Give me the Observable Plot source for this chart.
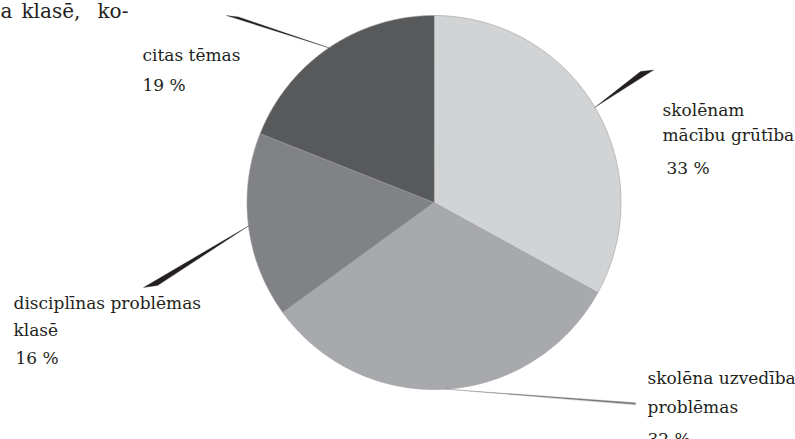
<!DOCTYPE html>
<html><head><meta charset="utf-8">
<script src="https://cdn.jsdelivr.net/npm/d3@7"></script>
<script src="https://cdn.jsdelivr.net/npm/@observablehq/plot@0.6"></script>
<style>
body{margin:0;background:#fff;overflow:hidden}
#chart svg{display:block;overflow:hidden}
</style>
</head><body><div id="chart"></div>
<script>
// ---- data ----
const categories = ["skolēnam mācību grūtības", "skolēna uzvedības problēmas", "disciplīnas problēmas klasē", "citas tēmas"];
const values = [33, 32, 16, 19];
const percentLabels = ["33 %", "32 %", "16 %", "19 %"];
const nameLines = [["skolēnam", "mācību grūtības"], ["skolēna uzvedības", "problēmas"], ["disciplīnas problēmas", "klasē"], ["citas tēmas"]];
const sliceColors = ["#d1d3d4", "#a7a9ac", "#808285", "#58595b"];
const fragmentWords = ["a", "klasē,", "ko-"];

// ---- layout ----
const W = 795, H = 439, CX = 433.5, CY = 202, R = 187;
const FONT = "DejaVu Serif, serif";
const labelPos = [
  {x: 662, y: 115, step: 25, px: 666, py: 173},
  {x: 647, y: 383, step: 29, px: 647, py: 444},
  {x: 13, y: 308, step: 27, px: 15, py: 363},
  {x: 142, y: 60, step: 0, px: 142, py: 90}
];
const fragmentX = [0, 21, 97];
const fragmentY = 17;
const leaderEnds = [
  [[640, 71], [653, 69.5]],
  [[635, 402.2], [635, 404]],
  [[143, 287], [157, 285]],
  [[226, 15], [238, 16.5]]
];
const leaderColors = ["#231f20", "#7a7a7a", "#231f20", "#231f20"];

// ---- build geometry from data ----
const arcs = d3.pie().sort(null).value(d => d).startAngle(0).endAngle(2 * Math.PI)(values);
const pt = (a, r) => [CX + r * Math.sin(a), CY - r * Math.cos(a)];

const slicePts = [];
arcs.forEach((a, i) => {
  const key = categories[i];
  slicePts.push({key, x: CX, y: CY});
  const n = Math.max(2, Math.ceil((a.endAngle - a.startAngle) / (Math.PI / 360)));
  for (let k = 0; k <= n; k++) {
    const t = a.startAngle + (a.endAngle - a.startAngle) * k / n;
    const [x, y] = pt(t, R);
    slicePts.push({key, x, y});
  }
});

const leaderPts = [];
arcs.forEach((a, i) => {
  const mid = (a.startAngle + a.endAngle) / 2;
  const [tx, ty] = pt(mid, R);
  const key = categories[i];
  leaderPts.push({key, c: leaderColors[i], x: tx, y: ty});
  leaderEnds[i].forEach(([x, y]) => leaderPts.push({key, c: leaderColors[i], x, y}));
});

const textRows = [];
nameLines.forEach((lines, i) => {
  lines.forEach((s, j) => textRows.push({x: labelPos[i].x, y: labelPos[i].y + j * labelPos[i].step, s}));
  textRows.push({x: labelPos[i].px, y: labelPos[i].py, s: percentLabels[i]});
});
const fragmentRows = fragmentWords.map((s, i) => ({x: fragmentX[i], y: fragmentY, s}));

const chart = Plot.plot({
  width: W, height: H,
  margin: 0,
  x: {domain: [0, W], range: [0, W], axis: null},
  y: {domain: [0, H], range: [0, H], axis: null},
  color: {domain: categories, range: sliceColors},
  style: {fontFamily: FONT, background: "#fff"},
  marks: [
    Plot.line(slicePts, {x: "x", y: "y", z: "key", fill: "key", stroke: "#9d9d9d", strokeWidth: 0.6, curve: "linear-closed"}),
    Plot.line(leaderPts, {x: "x", y: "y", z: "key", fill: d => d.c, stroke: d => d.c, strokeWidth: 0.3, curve: "linear-closed"}),
    Plot.text(textRows, {x: "x", y: "y", text: "s", textAnchor: "start", lineAnchor: "bottom", fontSize: 17, fill: "#231f20", fontFamily: FONT}),
    Plot.text(fragmentRows, {x: "x", y: "y", text: "s", textAnchor: "start", lineAnchor: "bottom", fontSize: 20, fill: "#231f20", fontFamily: FONT})
  ]
});
document.getElementById("chart").appendChild(chart);
</script>
</body></html>
